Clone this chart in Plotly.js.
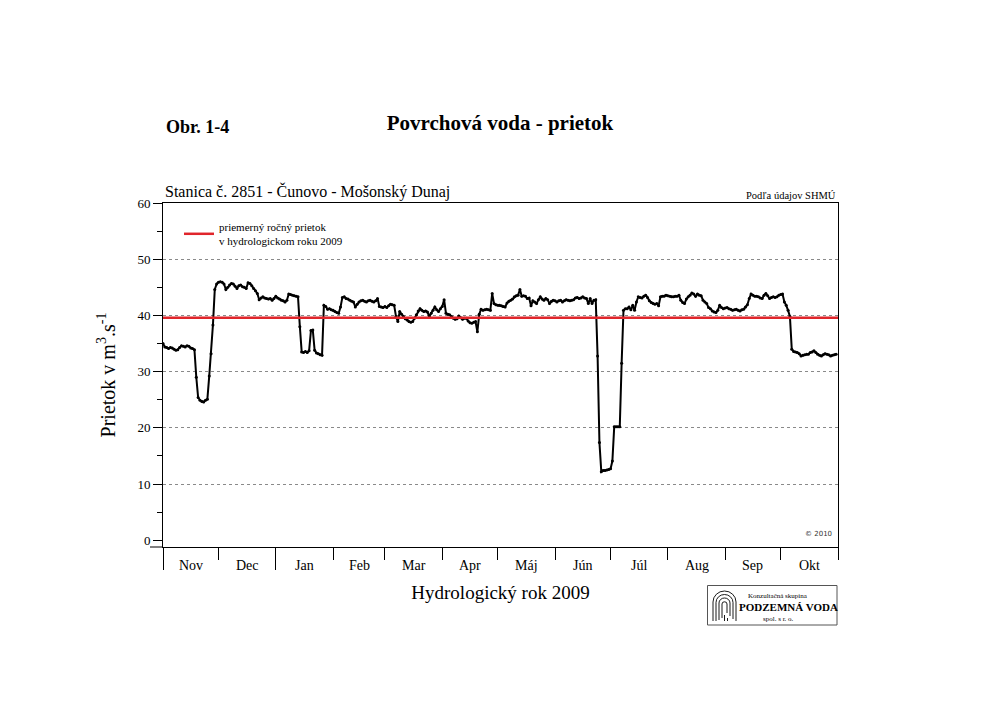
<!DOCTYPE html>
<html><head><meta charset="utf-8">
<script src="https://cdn.plot.ly/plotly-3.0.1.min.js"></script>
<style>html,body{margin:0;padding:0;background:#fff}</style>
</head><body><div id="chart" style="width:1000px;height:707px"></div>
<script>
// Daily discharge (m3/s), hydrological year 2009, station 2851 Čunovo - Mošonský Dunaj
const nov = [35.0,34.4,34.3,34.1,34.3,34.2,34.0,33.8,33.9,34.3,34.6,34.5,34.4,34.6,34.5,34.2,34.1,33.9,29.0,25.4,24.9,24.7,24.6,24.9,25.1,29.2,33.2,38.3,44.6,45.6];
const dec = [45.9,46.0,45.9,45.6,44.6,45.0,45.4,45.7,45.6,45.2,44.8,45.3,45.4,45.1,45.0,44.8,45.8,45.7,45.3,44.8,44.4,43.9,42.8,43.1,43.3,43.1,43.0,42.9,43.0,42.7,43.0];
const jan = [43.4,43.1,42.9,42.7,42.6,42.4,42.7,43.8,43.7,43.6,43.5,43.4,43.3,38.0,33.5,33.4,33.6,33.4,33.7,37.3,37.4,33.8,33.3,33.2,33.0,32.9,41.8,41.6,41.1,41.2,41.0];
const feb = [40.9,40.7,40.5,40.4,41.5,43.2,43.3,43.0,42.9,42.7,42.5,42.4,41.5,42.0,42.4,42.6,42.7,42.5,42.4,42.6,42.7,42.5,42.4,42.6,43.0,41.6,41.5,41.4];
const mar = [41.6,41.4,41.7,42.0,41.9,41.8,39.8,38.9,40.7,40.2,39.8,39.4,39.2,38.9,38.8,38.9,39.5,40.1,40.8,41.2,40.9,40.7,40.8,40.6,39.8,40.4,40.9,41.5,41.0,40.7,41.2];
const apr = [41.6,42.8,40.4,40.2,40.1,39.8,39.5,39.3,39.4,39.9,39.6,39.3,39.5,39.5,39.0,38.7,38.6,38.8,38.9,37.1,40.2,41.1,40.9,41.0,41.1,41.0,40.9,43.9,42.1,41.9];
const may = [41.8,41.8,41.7,41.6,41.5,42.2,42.5,42.7,42.9,43.3,43.5,43.6,44.6,43.4,43.5,43.4,43.0,43.1,41.7,42.6,42.4,42.1,42.8,43.3,42.9,42.7,43.0,42.8,42.1,42.5,42.7];
const jun = [42.6,42.4,42.6,42.7,42.4,42.6,42.8,42.7,42.6,42.7,42.8,43.1,43.2,43.0,43.1,43.3,43.1,43.0,42.1,43.0,42.1,42.7,42.8,32.8,17.4,12.2,12.4,12.4,12.5,12.6];
const jul = [12.7,14.1,20.2,20.2,20.2,20.2,31.5,40.9,41.2,41.2,41.5,41.0,41.8,40.9,42.4,43.3,43.2,43.1,43.4,43.6,43.2,42.6,42.3,42.1,42.0,42.1,41.7,43.3,43.4,43.4,43.6];
const aug = [43.5,43.4,43.3,43.3,43.4,43.4,43.6,42.7,42.3,42.1,42.9,43.3,43.6,44.0,43.8,43.4,43.8,43.6,43.5,42.7,42.4,42.1,41.4,41.2,40.8,40.6,40.5,40.9,41.8,41.4,41.2];
const sep = [41.3,41.4,41.2,41.1,40.9,41.0,41.1,40.9,40.8,41.0,41.1,41.5,41.9,43.0,43.8,43.6,43.4,43.4,43.3,43.1,43.0,43.6,43.9,43.5,43.0,43.2,43.3,43.2,43.3,43.6];
const okt = [43.7,43.8,42.4,41.8,40.9,39.8,34.0,33.6,33.5,33.4,33.2,32.8,32.9,33.0,33.1,33.1,33.4,33.5,33.7,33.4,33.1,32.9,32.8,33.0,33.2,33.1,33.0,32.8,32.9,33.0,33.1];

const meanFlow = 39.6;
const monthLabels = ['Nov','Dec','Jan','Feb','Mar','Apr','Máj','Jún','Júl','Aug','Sep','Okt'];
const monthStarts = ['2008-11-01','2008-12-01','2009-01-01','2009-02-01','2009-03-01','2009-04-01','2009-05-01','2009-06-01','2009-07-01','2009-08-01','2009-09-01','2009-10-01','2009-11-01'];
const yearTicks = ['2008-11-01','2009-01-01'];
const yTicks = [0,10,20,30,40,50,60];
const yGrid = [10,20,30,40,50];

const monthly = [nov,dec,jan,feb,mar,apr,may,jun,jul,aug,sep,okt];
const xs = [], ys = [];
monthly.forEach((arr, i) => {
  const p = monthStarts[i].split('-').map(Number);
  arr.forEach((v, d) => {
    xs.push(new Date(Date.UTC(p[0], p[1]-1, d+1)).toISOString().slice(0,10));
    ys.push(v);
  });
});
const toMs = s => Date.parse(s + 'T00:00:00Z');
const midMonths = monthLabels.map((_, i) => new Date((toMs(monthStarts[i]) + toMs(monthStarts[i+1]))/2).toISOString().slice(0,19).replace('T',' '));

const SERIF = 'Liberation Serif, Times New Roman, serif';

const traces = [
  {x: xs, y: ys, type:'scatter', mode:'lines+markers', line:{color:'#000', width:2}, marker:{color:'#000', size:3}, showlegend:false, hoverinfo:'x+y'},
  {x: [monthStarts[0], monthStarts[12]], y:[meanFlow, meanFlow], yaxis:'y2', type:'scatter', mode:'lines',
   line:{color:'#e0252b', width:2.5}, name:'priemerný ročný prietok<br>v hydrologickom roku 2009', showlegend:true}
];

// paper helpers (plot area: x 163..838, y 203..547)
const px = X => (X - 163) / 675;
const py = Y => (547 - Y) / 344;

const annotations = [
  {text:'<b>Obr. 1-4</b>', xref:'paper', yref:'paper', x:px(164), y:py(127), xanchor:'left', yanchor:'middle', showarrow:false, font:{family:SERIF, size:18, color:'#000'}},
  {text:'Stanica č. 2851 - Čunovo - Mošonský Dunaj', xref:'paper', yref:'paper', x:px(163), y:py(192), xanchor:'left', yanchor:'middle', showarrow:false, font:{family:SERIF, size:16, color:'#000'}},
  {text:'Podľa údajov SHMÚ', xref:'paper', yref:'paper', x:1, y:py(195), xanchor:'right', yanchor:'middle', showarrow:false, font:{family:SERIF, size:10.5, color:'#000'}},
  {text:'© 2010', xref:'paper', yref:'paper', x:px(834), y:py(534), xanchor:'right', yanchor:'middle', showarrow:false, font:{family:'DejaVu Sans, sans-serif', size:7, color:'#333'}},
  {text:'Konzultačná skupina', xref:'paper', yref:'paper', x:px(778), y:py(596), xanchor:'center', yanchor:'middle', showarrow:false, font:{family:SERIF, size:7, color:'#000'}},
  {text:'<b>PODZEMNÁ VODA</b>', xref:'paper', yref:'paper', x:px(788), y:py(607), xanchor:'center', yanchor:'middle', showarrow:false, font:{family:SERIF, size:11, color:'#000'}},
  {text:'spol. s r. o.', xref:'paper', yref:'paper', x:px(778), y:py(619), xanchor:'center', yanchor:'middle', showarrow:false, font:{family:SERIF, size:7, color:'#000'}}
];
monthLabels.forEach((m, i) => {
  annotations.push({text:m, xref:'x', yref:'paper', x:midMonths[i], y:py(565), xanchor:'center', yanchor:'middle', showarrow:false, font:{family:SERIF, size:14, color:'#000'}});
});

const svg = "<svg xmlns='http://www.w3.org/2000/svg' width='26' height='32' viewBox='0 0 26 32'><g fill='none' stroke='black' stroke-width='0.9'>" +
  "<path d='M1.5 31 V12 A11.5 11 0 0 1 24.5 12 V31'/>" +
  "<path d='M4.5 31 V12.5 A8.5 8 0 0 1 21.5 12.5 V29'/>" +
  "<path d='M7.5 30 V13 A5.5 5 0 0 1 18.5 13 V26'/>" +
  "<path d='M10.5 28 V14 A2.5 2.2 0 0 1 15.5 14 V23'/>" +
  "<path d='M13 31 V25'/><path d='M16 31 V28'/></g></svg>";

const layout = {
  width:1000, height:707,
  margin:{l:163, r:162, t:203, b:160},
  paper_bgcolor:'#fff', plot_bgcolor:'#fff',
  font:{family:SERIF, color:'#000'},
  title:{text:'<b>Povrchová voda - prietok</b>', x:0.5, xanchor:'center', y:1-123/707, yanchor:'middle', font:{family:SERIF, size:21, color:'#000'}},
  xaxis:{type:'date', range:[monthStarts[0], monthStarts[12]], showline:true, linecolor:'#000', linewidth:1, mirror:true,
    showgrid:false, zeroline:false, ticks:'outside', tickmode:'array', tickvals:yearTicks, ticklen:22, tickcolor:'#000', tickwidth:1,
    showticklabels:false,
    minor:{tickmode:'array', tickvals:monthStarts, ticks:'outside', ticklen:12, tickcolor:'#000', tickwidth:1, showgrid:false},
    title:{text:'Hydrologický rok 2009', font:{family:SERIF, size:19, color:'#000'}, standoff:16}},
  yaxis:{range:[-1.2, 60], showline:true, linecolor:'#000', linewidth:1, mirror:true, showgrid:false, zeroline:false,
    ticks:'outside', tickmode:'array', tickvals:yTicks, ticklen:9, tickcolor:'#000', tickfont:{family:SERIF, size:13, color:'#000'},
    minor:{dtick:5, ticks:'outside', ticklen:5, tickcolor:'#000', showgrid:false},
    title:{text:'Prietok v m<sup>3</sup>.s<sup>-1</sup>', font:{family:SERIF, size:20, color:'#000'}, standoff:16}},
  yaxis2:{range:[-1.2, 60], overlaying:'y', showline:false, showticklabels:false, ticks:'', zeroline:false,
    showgrid:true, tickmode:'array', tickvals:yGrid, gridcolor:'#8a8a8a', gridwidth:1, griddash:'3px,3px'},
  showlegend:true,
  legend:{x:px(179), y:py(213), xanchor:'left', yanchor:'top', bgcolor:'rgba(0,0,0,0)', borderwidth:0,
    font:{family:SERIF, size:11, color:'#000'}, itemwidth:30},
  shapes:[
    {type:'line', xref:'paper', yref:'paper', x0:px(150), x1:0, y0:0, y1:0, line:{color:'#000', width:1}},
    {type:'rect', xref:'paper', yref:'paper', x0:px(707.5), x1:px(837), y0:py(625), y1:py(585.5), line:{color:'#555', width:1}}
  ],
  images:[{source:'data:image/svg+xml;charset=utf-8,' + encodeURIComponent(svg), xref:'paper', yref:'paper',
    x:px(711.5), y:py(590), sizex:26/675, sizey:32/344, xanchor:'left', yanchor:'top', sizing:'stretch', layer:'above'}],
  annotations:annotations
};

Plotly.newPlot('chart', traces, layout, {staticPlot:true, displayModeBar:false});
</script></body></html>
